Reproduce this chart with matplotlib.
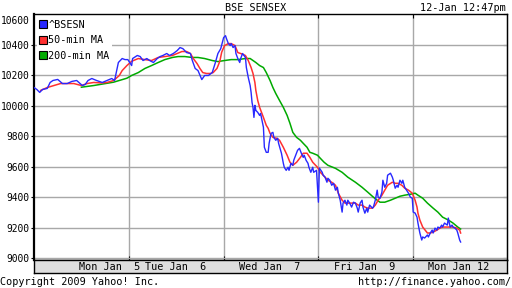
import matplotlib
matplotlib.use("Agg")
import matplotlib.pyplot as plt
from matplotlib.lines import Line2D

# x positions are in trading days (0 = Mon Jan 5 open, 1 = Tue Jan 6 open, ...)
blue_x = [0.00, 0.03, 0.06, 0.09, 0.14, 0.17, 0.20, 0.25, 0.30, 0.35, 0.40, 0.45, 0.51, 0.54,
          0.57, 0.61, 0.66, 0.72, 0.77, 0.82, 0.85, 0.89, 0.93, 0.96, 0.99,
          1.03, 1.04, 1.09, 1.12, 1.15, 1.19, 1.22, 1.26, 1.30, 1.33, 1.36, 1.40, 1.43, 1.47,
          1.51, 1.54, 1.57, 1.61, 1.65, 1.67, 1.70, 1.73, 1.77, 1.80, 1.84, 1.88, 1.91, 1.94, 1.97,
          2.00, 2.02, 2.03, 2.05, 2.07, 2.08, 2.10, 2.12, 2.13, 2.15, 2.17, 2.18, 2.20, 2.23,
          2.24, 2.26, 2.28, 2.29, 2.30, 2.31, 2.32, 2.33, 2.34, 2.36, 2.38, 2.39, 2.42, 2.43,
          2.45, 2.47, 2.48, 2.50, 2.52, 2.53, 2.55, 2.57, 2.58, 2.61, 2.63, 2.64, 2.66, 2.68,
          2.69, 2.71, 2.73, 2.74, 2.76, 2.78, 2.80, 2.82, 2.84, 2.85, 2.87, 2.89, 2.90, 2.92,
          2.94, 2.95, 2.98,
          3.00, 3.01, 3.04, 3.05, 3.07, 3.09, 3.10, 3.12, 3.14, 3.16, 3.18, 3.20, 3.21, 3.23,
          3.25, 3.26, 3.28, 3.30, 3.31, 3.33, 3.35, 3.37, 3.39, 3.41, 3.42, 3.44, 3.46, 3.47,
          3.49, 3.51, 3.52, 3.54, 3.57, 3.58, 3.60, 3.62, 3.63, 3.65, 3.67, 3.68, 3.70, 3.72,
          3.73, 3.76, 3.78, 3.79, 3.81, 3.83, 3.84, 3.86, 3.88, 3.89, 3.91, 3.93, 3.95, 3.97, 3.99,
          4.00, 4.02, 4.04, 4.05, 4.07, 4.09, 4.10, 4.12, 4.15, 4.16, 4.18, 4.20, 4.21, 4.23,
          4.25, 4.26, 4.28, 4.30, 4.31, 4.33, 4.36, 4.37, 4.39, 4.41, 4.42, 4.44, 4.46, 4.47,
          4.49, 4.50]
blue_y = [10118, 10105, 10086, 10105, 10112, 10151, 10164, 10171, 10144, 10144, 10158, 10164, 10131, 10138,
          10164, 10177, 10164, 10151, 10164, 10177, 10164, 10282, 10308, 10301, 10301,
          10262, 10308, 10328, 10321, 10295, 10308, 10295, 10282, 10308, 10321, 10328, 10341, 10328, 10341,
          10360, 10380, 10373, 10347, 10341, 10295, 10243, 10229, 10170, 10197, 10197, 10216, 10275, 10341, 10373,
          10445, 10458, 10439, 10406, 10393, 10406, 10380, 10393, 10341, 10308, 10282, 10308, 10341, 10315,
          10249, 10184, 10131, 10086, 10020, 9988, 9922, 10001, 9968, 9955, 9935, 9948, 9857, 9726,
          9693, 9693, 9752, 9817, 9824, 9791, 9772, 9785, 9752, 9687, 9621, 9595, 9575, 9595,
          9575, 9621, 9608, 9641, 9674, 9706, 9719, 9687, 9660, 9674, 9641, 9621, 9595, 9562,
          9595, 9562, 9575,
          9366, 9590, 9562, 9543, 9530, 9497, 9523, 9510, 9477, 9490, 9445, 9464, 9425, 9379,
          9301, 9360, 9379, 9347, 9379, 9360, 9334, 9366, 9360, 9327, 9301, 9360, 9379, 9334,
          9294, 9327, 9301, 9347, 9327, 9334, 9379, 9445, 9399, 9392, 9432, 9510, 9464, 9490,
          9543, 9556, 9530, 9510, 9458, 9477, 9464, 9510, 9490, 9510, 9464, 9445, 9425, 9399, 9392,
          9301, 9295, 9268, 9229, 9164, 9118, 9138, 9131, 9151, 9138, 9164, 9183, 9164, 9196,
          9183, 9203, 9196, 9216, 9203, 9229, 9216, 9262, 9203, 9216, 9203, 9196, 9183, 9164,
          9118, 9105]

red_x = [0.07, 0.14, 0.21, 0.28, 0.35, 0.42, 0.50, 0.56, 0.63, 0.71, 0.77, 0.84, 0.90, 0.93, 0.98,
         1.03, 1.10, 1.17, 1.24, 1.31, 1.38, 1.46, 1.51, 1.56, 1.61, 1.65, 1.68, 1.72, 1.75, 1.78,
         1.82, 1.86, 1.89, 1.93, 1.96, 1.98,
         2.01, 2.05, 2.08, 2.12, 2.15, 2.18, 2.23, 2.26, 2.29, 2.31, 2.33, 2.34, 2.36, 2.38, 2.42,
         2.45, 2.47, 2.49, 2.52, 2.56, 2.59, 2.63, 2.67, 2.70, 2.73, 2.77, 2.81, 2.84, 2.88, 2.91,
         2.94, 2.99,
         3.02, 3.05, 3.07, 3.10, 3.14, 3.18, 3.21, 3.25, 3.28, 3.31, 3.35, 3.39, 3.42, 3.46, 3.49,
         3.52, 3.57, 3.60, 3.63, 3.67, 3.70, 3.73, 3.78, 3.81, 3.84, 3.88, 3.91, 3.95, 3.99,
         4.02, 4.04, 4.05, 4.07, 4.10, 4.15, 4.18, 4.21, 4.25, 4.28, 4.31, 4.36, 4.39, 4.42, 4.46,
         4.49, 4.50]
red_y = [10099, 10118, 10131, 10144, 10144, 10144, 10131, 10144, 10151, 10148, 10151, 10164, 10197, 10229, 10262,
         10290, 10308, 10301, 10295, 10315, 10321, 10328, 10341, 10354, 10354, 10341, 10308, 10275, 10243, 10216,
         10210, 10210, 10216, 10243, 10290, 10350,
         10393, 10406, 10406, 10393, 10347, 10341, 10328, 10295, 10249, 10210, 10151, 10099, 10033, 9988, 9922,
         9870, 9850, 9817, 9791, 9785, 9772, 9726, 9674, 9628, 9608, 9628, 9660, 9687, 9687, 9660,
         9628, 9595,
         9562, 9543, 9530, 9510, 9497, 9477, 9425, 9379, 9360, 9360, 9360, 9360, 9347, 9347, 9334,
         9327, 9327, 9347, 9379, 9412, 9445, 9477, 9497, 9490, 9490, 9477, 9458, 9445, 9425,
         9379, 9334, 9294, 9249, 9203, 9164, 9164, 9170, 9183, 9196, 9203, 9203, 9203, 9203, 9196,
         9183, 9164]

green_x = [0.50, 0.63, 0.84, 0.98, 1.03, 1.10, 1.17, 1.24, 1.31, 1.38, 1.46, 1.52, 1.59, 1.67,
           1.73, 1.80, 1.88, 1.94, 2.01, 2.08, 2.15, 2.23, 2.28, 2.31, 2.34, 2.38, 2.42, 2.45,
           2.49, 2.52, 2.55, 2.59, 2.63, 2.67, 2.70, 2.73, 2.77, 2.81, 2.84, 2.88, 2.91, 2.94,
           2.99, 3.02, 3.06, 3.10, 3.18, 3.25, 3.31, 3.39, 3.46, 3.52, 3.58, 3.62, 3.65, 3.70,
           3.76, 3.81, 3.86, 3.91, 3.97, 4.02, 4.05, 4.10, 4.15, 4.21, 4.26, 4.31, 4.37, 4.42,
           4.47, 4.50]
green_y = [10120, 10131, 10153, 10179, 10197, 10216, 10243, 10262, 10282, 10301, 10315, 10321, 10321, 10315,
           10315, 10308, 10295, 10288, 10295, 10301, 10301, 10308, 10308, 10295, 10282, 10262, 10249, 10216,
           10164, 10118, 10079, 10033, 9988, 9935, 9883, 9824, 9791, 9772, 9752, 9726, 9693, 9687,
           9674, 9654, 9628, 9608, 9588, 9562, 9530, 9497, 9464, 9432, 9399, 9379, 9366, 9366,
           9379, 9392, 9405, 9412, 9418, 9425, 9412, 9392, 9360, 9327, 9301, 9268, 9249, 9229,
           9203, 9190]

day_labels = ["Mon Jan  5", "Tue Jan  6", "Wed Jan  7", "Fri Jan  9", "Mon Jan 12"]
day_label_pos = [0.80, 1.49, 2.49, 3.49, 4.48]
day_breaks = [1, 2, 3, 4]
y_ticks = [9000, 9200, 9400, 9600, 9800, 10000, 10200, 10400]

FONT = "DejaVu Sans Mono"
FS = 7.3
TICK_FS = 6.9
BLUE = "#2828ff"
RED = "#ff3030"
GREEN = "#00aa00"
GRID = "#a8a8a8"

plt.rcParams.update({"font.family": FONT, "font.size": FS})

fig = plt.figure(figsize=(5.12, 2.88), dpi=100)
ax = fig.add_axes([34 / 512, 1 - 260 / 288, 472.5 / 512, 246 / 288])
ax.set_xlim(0, 4.984)
ax.set_ylim(8987, 10600)

ax.plot(green_x, green_y, color=GREEN, lw=1.1, zorder=3)
ax.plot(red_x, red_y, color=RED, lw=1.1, zorder=4)
ax.plot(blue_x, blue_y, color=BLUE, lw=1.0, zorder=5)

ax.set_xticks(day_breaks)
ax.set_yticks(y_ticks)
ax.set_yticklabels([str(v) for v in y_ticks])
ax.grid(True, color=GRID, lw=1.0, zorder=0)
ax.set_axisbelow(True)
ax.tick_params(axis="x", direction="in", top=True, length=3, labelbottom=False, color="black")
ax.tick_params(axis="y", direction="out", length=2.5, pad=0.5, labelsize=TICK_FS)
for s in ax.spines.values():
    s.set_color("black")
    s.set_linewidth(1.0)
ax.spines["left"].set_linewidth(1.6)

sec = ax.secondary_yaxis("right")
sec.set_yticks(y_ticks + [10600])
sec.tick_params(direction="in", length=3, labelright=False)

ax.annotate("10600", xy=(0, 10600), xycoords=("axes fraction", "data"),
            xytext=(-3, -5), textcoords="offset points", ha="right", va="center",
            fontsize=TICK_FS, annotation_clip=False)

handles = [Line2D([], [], ls="none", marker="s", markersize=6.2, markerfacecolor=c,
                  markeredgecolor="black", markeredgewidth=0.8) for c in (BLUE, RED, GREEN)]
leg = ax.legend(handles, ["^BSESN", "50-min MA", "200-min MA"], loc="upper left",
                frameon=True, fancybox=False, framealpha=1, edgecolor="none",
                handlelength=0.6, handletextpad=0.25, labelspacing=0.55,
                borderpad=0.3, borderaxespad=0.25, fontsize=FS)
leg.set_zorder(2.5)

bar = fig.add_axes([34 / 512, 1 - 273 / 288, 472.5 / 512, 13 / 288])
bar.set_xlim(0, 4.984)
bar.set_ylim(0, 1)
bar.set_facecolor("#dedede")
bar.set_xticks([])
bar.set_yticks([])
for s in bar.spines.values():
    s.set_color("black")
    s.set_linewidth(1.0)
for lab, pos in zip(day_labels, day_label_pos):
    bar.text(pos, 0.45, lab, ha="center", va="center", fontsize=FS)

fig.text(286 / 512, 1 - 8 / 288, "BSE SENSEX", ha="right", va="center", fontsize=FS)
fig.text(506 / 512, 1 - 8 / 288, "12-Jan 12:47pm", ha="right", va="center", fontsize=FS)
fig.text(0.0, 1 - 282 / 288, "Copyright 2009 Yahoo! Inc.", ha="left", va="center", fontsize=FS)
fig.text(511 / 512, 1 - 282 / 288, "http://finance.yahoo.com/", ha="right", va="center", fontsize=FS)

fig.savefig("out.png", dpi=100, facecolor="white")
